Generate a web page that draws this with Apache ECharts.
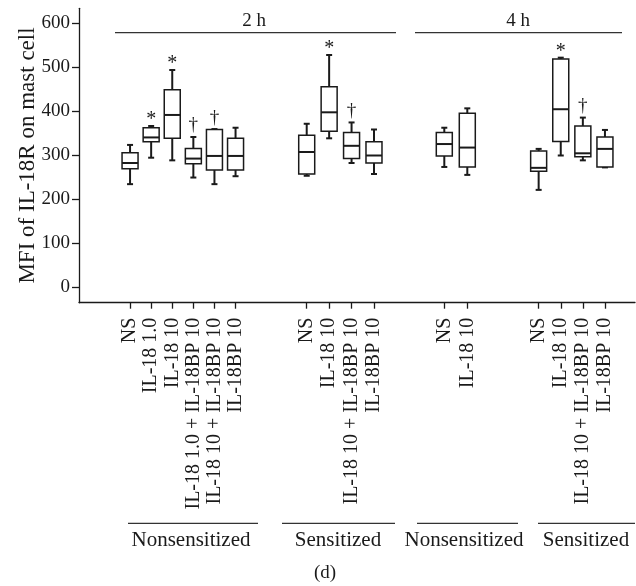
<!DOCTYPE html>
<html>
<head>
<meta charset="utf-8">
<script src="https://cdn.jsdelivr.net/npm/echarts@6/dist/echarts.min.js"></script>
<style>
  html, body { margin: 0; padding: 0; background: #fff; }
  #chart { width: 636px; height: 586px; }
</style>
</head>
<body>
<div id="chart"></div>
<script>
// tick labels of the MFI axis
const yTicks = [0, 100, 200, 300, 400, 500, 600];

// each box: [min, q1, median, q3, max]
const nonsens2hCats = ['NS', 'IL-18 1.0', 'IL-18 10', 'IL-18 1.0 + IL-18BP 10', 'IL-18 10 + IL-18BP 10', 'IL-18BP 10'];
const nonsens2hBoxes = [
  [234, 269, 282, 305, 323],
  [294, 330, 340, 362, 366],
  [288, 338, 391, 448, 493],
  [249, 280, 292, 315, 341],
  [234, 266, 298, 358, 359],
  [252, 266, 298, 338, 362]
];
const nonsens2hMarks = ['', '*', '*', '†', '†', ''];

const sens2hCats = ['NS', 'IL-18 10', 'IL-18 10 + IL-18BP 10', 'IL-18BP 10'];
const sens2hBoxes = [
  [253, 257, 307, 345, 371],
  [338, 354, 397, 455, 527],
  [282, 292, 321, 351, 374],
  [257, 282, 299, 330, 358]
];
const sens2hMarks = ['', '*', '†', ''];

const nonsens4hCats = ['NS', 'IL-18 10'];
const nonsens4hBoxes = [
  [273, 298, 325, 351, 362],
  [255, 273, 317, 395, 406]
];
const nonsens4hMarks = ['', ''];

const sens4hCats = ['NS', 'IL-18 10', 'IL-18 10 + IL-18BP 10', 'IL-18BP 10'];
const sens4hBoxes = [
  [221, 263, 271, 309, 314],
  [299, 331, 404, 518, 521],
  [288, 296, 304, 366, 385],
  [272, 273, 314, 341, 357]
];
const sens4hMarks = ['', '*', '†', ''];

const chart = echarts.init(document.getElementById('chart'));

const FONT = 'Liberation Serif';
const INK = '#1a1a1a';
const TOP = 8.3;
const BOTTOM = 283.3;
const Y_MIN = -35;
const Y_MAX = 633;

// one grid per group so every group keeps its own spacing
const panels = [
  { cats: nonsens2hCats, boxes: nonsens2hBoxes, marks: nonsens2hMarks, left: 119.5, width: 126.6 },
  { cats: sens2hCats, boxes: sens2hBoxes, marks: sens2hMarks, left: 295.5, width: 89.7 },
  { cats: nonsens4hCats, boxes: nonsens4hBoxes, marks: nonsens4hMarks, left: 432.8, width: 46 },
  { cats: sens4hCats, boxes: sens4hBoxes, marks: sens4hMarks, left: 527.6, width: 88.4 }
];

const seg = (x1, y1, x2, y2, w) => ({
  type: 'line',
  shape: { x1, y1, x2, y2 },
  style: { stroke: INK, lineWidth: w }
});

const boxRenderer = marks => (params, api) => {
  const i = api.value(0);
  const x = api.coord([i, api.value(1)])[0];
  const yMin = api.coord([i, api.value(1)])[1];
  const yQ1 = api.coord([i, api.value(2)])[1];
  const yMed = api.coord([i, api.value(3)])[1];
  const yQ3 = api.coord([i, api.value(4)])[1];
  const yMax = api.coord([i, api.value(5)])[1];
  const half = 8;
  const cap = 3;
  const children = [
    seg(x, yQ3, x, yMax, 2),
    seg(x, yQ1, x, yMin, 2),
    seg(x - cap, yMax, x + cap, yMax, 2),
    seg(x - cap, yMin, x + cap, yMin, 2),
    {
      type: 'rect',
      shape: { x: x - half, y: yQ3, width: half * 2, height: yQ1 - yQ3 },
      style: { fill: '#fff', stroke: INK, lineWidth: 1.5 }
    },
    seg(x - half, yMed, x + half, yMed, 2)
  ];
  const mark = marks[params.dataIndex];
  if (mark) {
    children.push({
      type: 'text',
      style: {
        text: mark,
        x: x,
        y: mark === '*' ? yMax + 4 : yMax - 2,
        align: 'center',
        verticalAlign: 'bottom',
        font: (mark === '*' ? '20px ' : '19px ') + FONT,
        fill: INK
      }
    });
  }
  return { type: 'group', children };
};

const txt = (text, x, y, size) => ({
  type: 'text',
  style: { text, x, y, align: 'center', verticalAlign: 'middle', font: size + 'px ' + FONT, fill: INK }
});
const rule = (x1, x2, y) => ({
  type: 'line',
  shape: { x1, y1: y, x2, y2: y },
  style: { stroke: '#333', lineWidth: 1.3 }
});

chart.setOption({
  animation: false,
  grid: [{ left: 79, right: 1, top: TOP, bottom: BOTTOM }].concat(
    panels.map(p => ({ left: p.left, width: p.width, top: TOP, bottom: BOTTOM }))
  ),
  xAxis: [{
    type: 'value',
    gridIndex: 0,
    min: 0,
    max: 1,
    axisLine: { show: true, onZero: false, lineStyle: { color: INK, width: 1.3 } },
    axisTick: { show: false },
    axisLabel: { show: false },
    splitLine: { show: false }
  }].concat(panels.map((p, k) => ({
    type: 'category',
    gridIndex: k + 1,
    data: p.cats,
    axisLine: { show: false, onZero: false },
    axisTick: { show: true, alignWithLabel: true, interval: 0, length: 6, lineStyle: { color: INK, width: 1.3 } },
    axisLabel: { interval: 0, rotate: 90, margin: 15, fontFamily: FONT, fontSize: 20, color: INK },
    splitLine: { show: false }
  }))),
  yAxis: [{
    type: 'value',
    gridIndex: 0,
    min: Y_MIN,
    max: Y_MAX,
    name: 'MFI of IL-18R on mast cell',
    nameLocation: 'middle',
    nameGap: 40,
    nameMoveOverlap: false,
    nameTextStyle: { fontFamily: FONT, fontSize: 23, color: INK },
    axisLine: { show: true, onZero: false, lineStyle: { color: INK, width: 1.3 } },
    axisTick: { show: true, length: 7, customValues: yTicks, lineStyle: { color: INK, width: 1.3 } },
    axisLabel: { customValues: yTicks, margin: 9, fontFamily: FONT, fontSize: 19, color: INK },
    splitLine: { show: false }
  }].concat(panels.map((p, k) => ({
    type: 'value',
    gridIndex: k + 1,
    min: Y_MIN,
    max: Y_MAX,
    show: false
  }))),
  series: panels.map((p, k) => ({
    type: 'custom',
    xAxisIndex: k + 1,
    yAxisIndex: k + 1,
    renderItem: boxRenderer(p.marks),
    encode: { x: 0, y: [1, 2, 3, 4, 5] },
    data: p.boxes.map((b, i) => [i].concat(b))
  })),
  graphic: [
    rule(115, 396, 32.7),
    rule(415, 622, 32.7),
    txt('2 h', 254, 21, 19),
    txt('4 h', 518, 21, 19),
    rule(128, 258, 523.3),
    rule(282, 395, 523.3),
    rule(417, 518, 523.3),
    rule(538, 635, 523.3),
    txt('Nonsensitized', 191, 540, 21),
    txt('Sensitized', 338, 540, 21),
    txt('Nonsensitized', 464, 540, 21),
    txt('Sensitized', 586, 540, 21),
    txt('(d)', 325, 573, 19)
  ]
});
</script>
</body>
</html>
